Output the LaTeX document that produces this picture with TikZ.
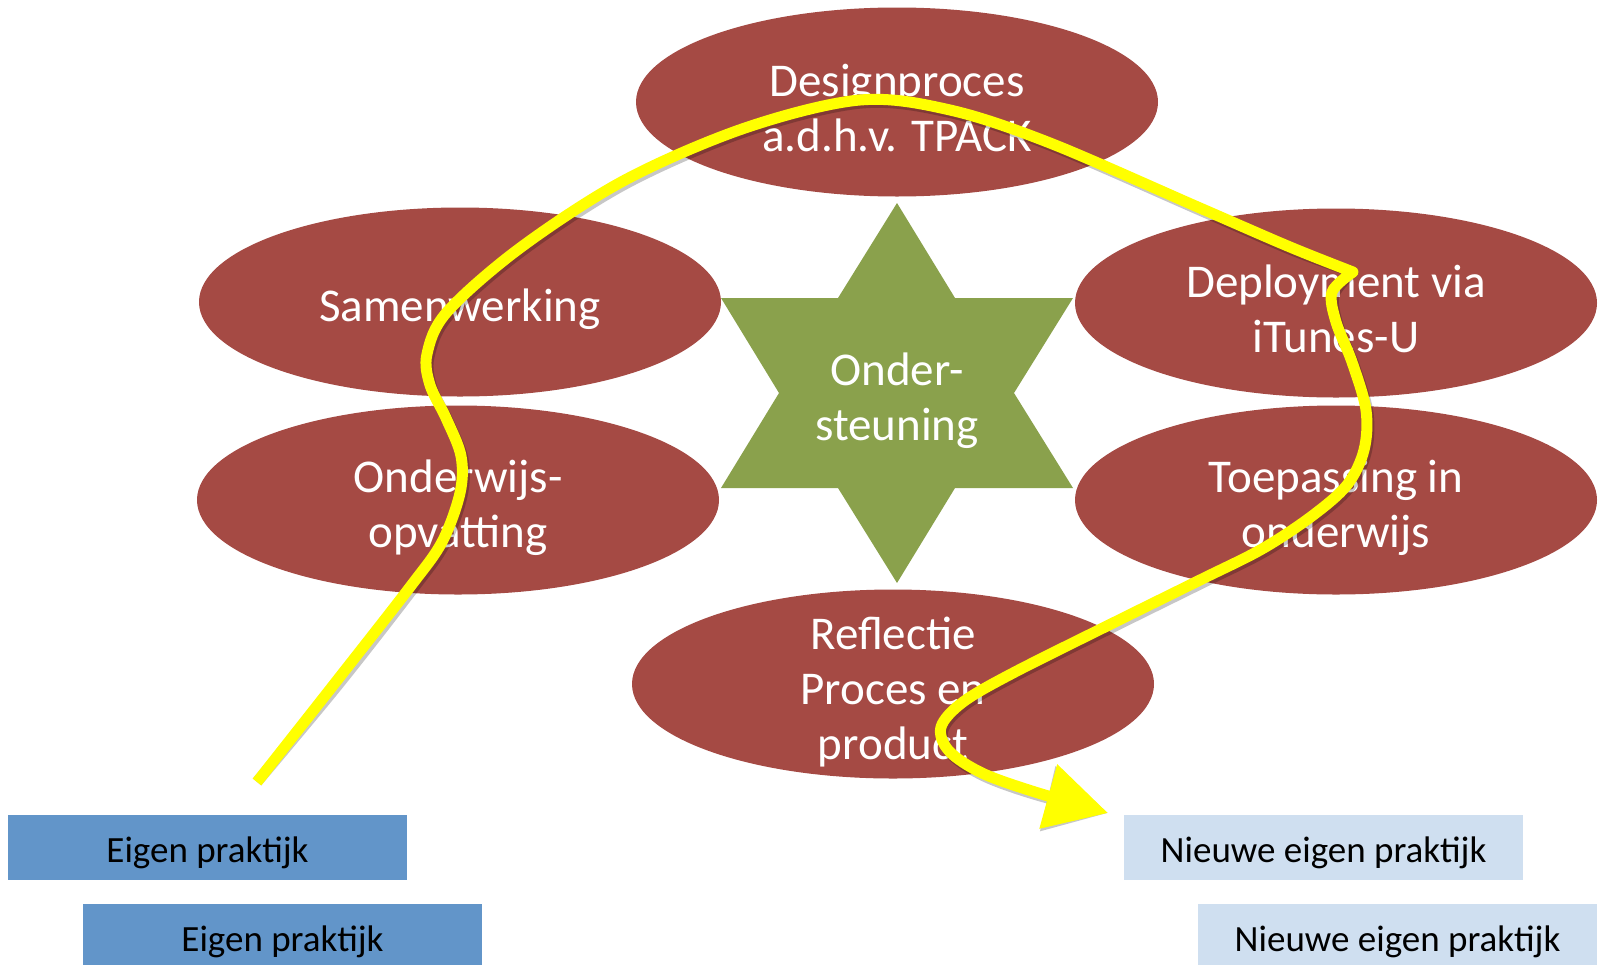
\documentclass[tikz,border=0pt]{standalone}
\usepackage{fontspec}
\setmainfont{Carlito}
\usetikzlibrary{shapes.geometric,arrows.meta}
\definecolor{ellred}{RGB}{165,74,68}
\definecolor{stargreen}{RGB}{138,161,76}
\definecolor{boxblue}{RGB}{98,149,201}
\definecolor{boxlight}{RGB}{207,223,240}
\definecolor{route}{RGB}{255,255,0}
\tikzset{
 redell/.style={ellipse, fill=ellred, minimum width=522pt, minimum height=189pt, inner sep=0pt},
 elltext/.style={text=white, font=\fontsize{47}{55}\selectfont, align=center, inner sep=0pt},
 box/.style={minimum width=399pt, minimum height=65pt, inner sep=0pt, font=\fontsize{37}{44}\selectfont, text=black},
 boxtext/.style={inner sep=0pt, font=\fontsize{37}{44}\selectfont, text=black},
 routeline/.style={draw=route, line width=11pt, line join=round, -{Triangle[length=62pt,width=64pt]}},
 routeshadow/.style={draw=black, draw opacity=0.22, fill opacity=0.22, line width=11pt, line join=round, -{Triangle[length=62pt,width=64pt]}, xshift=2pt, yshift=-3pt}
}
\newcommand\yellowroute{plot[smooth,tension=0.55] coordinates {(start) (335,683) (410,587) (442,542) (460,493) (461,456) (446,418) (430,385) (427,354) (447,312) (520,248) (625,180) (745,128) (860,100) (950,110) (1050,143) (1200,208) (1290,247) (kink)}
 -- plot[smooth,tension=0.55] coordinates {(kink) (1332,292) (1336,322) (1352,362) (1366,410) (1364,450) (1347,485) (1312,516) (1262,549) (1200,580) (1113,623) (1013,673) (963,702) (941,727) (949,751) (982,773) (1035,792) (end)}}
\begin{document}
\begin{tikzpicture}[x=1pt,y=-1pt]
\useasboundingbox (0,0) rectangle (1600,964);
\clip (0,0) rectangle (1600,964);
% ellipses
\node[redell] (design) at (897,102) {};
\node[redell] (samen) at (460,302) {};
\node[redell] (onder) at (458,500) {};
\node[redell] (deploy) at (1336,303) {};
\node[redell] (toep) at (1336,500) {};
\node[redell] (refl) at (893,684) {};
\node[elltext] (designt) at (897,108) {Designproces\\a.d.h.v. TPACK};
\node[elltext] (savent) at (460,309) {Samenwerking};
\node[elltext] (ondert) at (458,508) {Onderwijs-\\opvatting};
\node[elltext] (deployt) at (1336,309) {Deployment via\\iTunes-U};
\node[elltext] (toept) at (1336,508) {Toepassing in\\onderwijs};
\node[elltext] (reflt) at (893,692) {Reflectie\\Proces en\\product};
% star
\fill[stargreen] (897,203) -- (955,298) -- (1073,298) -- (1014,393) -- (1073,488) -- (955,488) -- (897,583) -- (838,488) -- (721,488) -- (779,393) -- (721,298) -- (838,298) -- cycle;
\node[elltext] (star) at (897,401) {Onder-\\steuning};
% boxes
\node[box, fill=boxblue] (eigen1) at (207.5,847.5) {};
\node[box, fill=boxblue] (eigen2) at (282.5,936.5) {};
\node[box, fill=boxlight] (nieuw1) at (1323.5,847.5) {};
\node[box, fill=boxlight] (nieuw2) at (1397.5,936.5) {};
\node[boxtext] (eigen1t) at ([yshift=-5pt]eigen1.center) {Eigen praktijk};
\node[boxtext] (eigen2t) at ([yshift=-5pt]eigen2.center) {Eigen praktijk};
\node[boxtext] (nieuw1t) at ([yshift=-5pt]nieuw1.center) {Nieuwe eigen praktijk};
\node[boxtext] (nieuw2t) at ([yshift=-5pt]nieuw2.center) {Nieuwe eigen praktijk};
% route
\coordinate (start) at (257,782);
\coordinate (kink) at (1353,272);
\coordinate (end) at (1108,813);
\draw[routeshadow] \yellowroute;
\draw[routeline] \yellowroute;
\end{tikzpicture}
\end{document}
